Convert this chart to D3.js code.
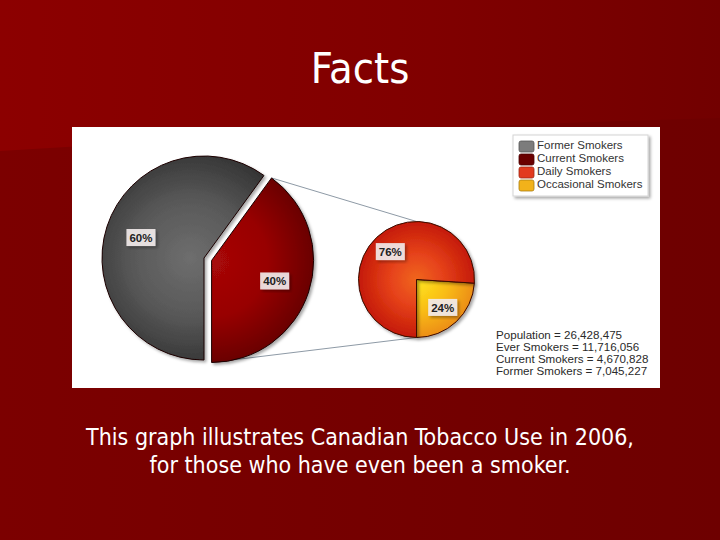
<!DOCTYPE html>
<html>
<head>
<meta charset="utf-8">
<script src="https://cdn.jsdelivr.net/npm/d3@7"></script>
<style>
  body { margin: 0; background: #760000; }
</style>
</head>
<body>
<script>
// Data
const mainLabels = ["Current Smokers", "Former Smokers"];
const mainValues = [40, 60];
const subLabels = ["Occasional Smokers", "Daily Smokers"];
const subValues = [24, 76];
const legendLabels = ["Former Smokers", "Current Smokers", "Daily Smokers", "Occasional Smokers"];
const statLines = [
    "Population = 26,428,475",
    "Ever Smokers = 11,716,056",
    "Current Smokers = 4,670,828",
    "Former Smokers = 7,045,227"
];
const captionLines = [
    "This graph illustrates Canadian Tobacco Use in 2006,",
    "for those who have even been a smoker."
];

let width = 720,
    height = 540;

let svg = d3.select('body')
    .append('svg')
    .attr('width', width)
    .attr('height', height);

const defs = svg.append('defs');

// helper for gradients
function linGrad(id, stops) {
    let g = defs.append('linearGradient').attr('id', id)
        .attr('x1', '0%').attr('x2', '100%').attr('y1', '0%').attr('y2', '0%');
    stops.forEach(s => g.append('stop').attr('offset', s[0]).attr('stop-color', s[1]));
}
// radial gradients live in the local space of each pie group (centre = 0,0)
function radGrad(id, cx, cy, r, stops) {
    let g = defs.append('radialGradient').attr('id', id)
        .attr('gradientUnits', 'userSpaceOnUse')
        .attr('cx', cx).attr('cy', cy).attr('r', r);
    stops.forEach(s => g.append('stop').attr('offset', s[0]).attr('stop-color', s[1]));
}

let shadow = defs.append('filter').attr('id', 'shadow')
    .attr('x', '-20%').attr('y', '-20%').attr('width', '140%').attr('height', '140%');
shadow.append('feDropShadow')
    .attr('dx', 2).attr('dy', 2).attr('stdDeviation', 1.6)
    .attr('flood-color', '#000').attr('flood-opacity', 0.35);

// slide background
linGrad('bgLow', [[0, '#7c0000'], [1, '#6e0000']]);
linGrad('bgTop', [[0, '#8c0000'], [0.6, '#800000'], [1, '#720000']]);

svg.append('rect')
    .attr('width', width).attr('height', height)
    .attr('fill', 'url(#bgLow)');

svg.append('path')
    .attr('d', 'M0,0 L720,0 L720,118 Q360,128 0,151 Z')
    .attr('fill', 'url(#bgTop)');

// title
svg.append('text')
    .attr('x', 360)
    .attr('y', 83)
    .attr('text-anchor', 'middle')
    .style('font-family', '"DejaVu Sans Condensed", "DejaVu Sans", sans-serif')
    .style('font-size', '43px')
    .attr('fill', '#fff')
    .text('Facts');

// white chart panel
let panel = { x: 72, y: 127, w: 588, h: 261 };
svg.append('rect')
    .attr('x', panel.x).attr('y', panel.y)
    .attr('width', panel.w).attr('height', panel.h)
    .attr('fill', '#fff');

// pie geometry
let main = { cx: 204, cy: 258, r: 102 };
let sub = { cx: 416.5, cy: 279.5, r: 58 };

// current slice is exploded towards the secondary pie
const mainStart = Math.PI - 2 * Math.PI * mainValues[0] / d3.sum(mainValues);
const subStart = Math.PI - 2 * Math.PI * subValues[0] / d3.sum(subValues);

const mainPie = d3.pie().sort(null)
    .startAngle(mainStart).endAngle(mainStart + 2 * Math.PI);
const subPie = d3.pie().sort(null)
    .startAngle(subStart).endAngle(subStart + 2 * Math.PI);

const mainArcs = mainPie(mainValues);
const subArcs = subPie(subValues);

const mainArc = d3.arc().innerRadius(0).outerRadius(main.r);
const subArc = d3.arc().innerRadius(0).outerRadius(sub.r);
const mainLabelArc = d3.arc().innerRadius(main.r * 0.65).outerRadius(main.r * 0.65);
const subLabelArc = d3.arc().innerRadius(sub.r * 0.66).outerRadius(sub.r * 0.66);

let explode = 8;
let cur = mainArcs[0];
let mid = (cur.startAngle + cur.endAngle) / 2;
let off = [explode * Math.sin(mid), -explode * Math.cos(mid)];

radGrad('gFormer', -14, 0, main.r * 1.05, [[0, '#6e6e6e'], [0.55, '#585858'], [1, '#363636']]);
radGrad('gCurrent', 0, 0, main.r, [[0, '#a80808'], [0.55, '#980202'], [1, '#6a0000']]);
radGrad('gDaily', 0, 0, sub.r, [[0, '#f0661a'], [0.45, '#e6421a'], [1, '#c41a06']]);
radGrad('gOcc', 0, 0, sub.r, [[0, '#ffe620'], [0.55, '#f9bc14'], [1, '#ec8e12']]);

const fills = ['url(#gCurrent)', 'url(#gFormer)'];
const subFills = ['url(#gOcc)', 'url(#gDaily)'];

// connector lines from the exploded slice to the secondary pie
function pt(c, r, a, o) {
    return [c.cx + o[0] + r * Math.sin(a), c.cy + o[1] - r * Math.cos(a)];
}
let p1 = pt(main, main.r, cur.startAngle, off),
    p2 = pt(main, main.r, cur.endAngle, off),
    q1 = pt(sub, sub.r, 0, [0, 0]),
    q2 = pt(sub, sub.r, Math.PI, [0, 0]);

svg.append('line')
    .attr('x1', p1[0]).attr('y1', p1[1]).attr('x2', q1[0]).attr('y2', q1[1])
    .attr('stroke', '#8e9aa6').attr('stroke-width', 1);
svg.append('line')
    .attr('x1', p2[0]).attr('y1', p2[1]).attr('x2', q2[0]).attr('y2', q2[1])
    .attr('stroke', '#8e9aa6').attr('stroke-width', 1);

// main pie
let mainG = svg.append('g')
    .attr('transform', `translate(${main.cx},${main.cy})`);

mainG.selectAll('path')
    .data(mainArcs)
    .enter().append('path')
    .attr('d', mainArc)
    .attr('transform', (d, i) => i === 0 ? `translate(${off[0]},${off[1]})` : null)
    .attr('fill', (d, i) => fills[i])
    .attr('stroke', '#1a0000')
    .attr('stroke-width', 1)
    .attr('filter', 'url(#shadow)');

// secondary pie
let subG = svg.append('g')
    .attr('transform', `translate(${sub.cx},${sub.cy})`);

subG.selectAll('path')
    .data(subArcs)
    .enter().append('path')
    .attr('d', subArc)
    .attr('fill', (d, i) => subFills[i])
    .attr('stroke', '#3a0800')
    .attr('stroke-width', 1)
    .attr('filter', 'url(#shadow)');

// percentage labels with little boxes
function addLabel(g, pos, txt) {
    let lg = g.append('g').attr('transform', `translate(${pos[0]},${pos[1]})`);
    let bg = lg.append('rect')
        .attr('fill', '#f3ecec')
        .attr('fill-opacity', 0.9)
        .attr('filter', 'url(#shadow)');
    let t = lg.append('text')
        .attr('text-anchor', 'middle')
        .attr('dy', '0.36em')
        .style('font-family', '"Liberation Sans", Arial, sans-serif')
        .style('font-size', '11.5px')
        .style('font-weight', 'bold')
        .attr('fill', '#222')
        .text(txt);
    let bb = t.node().getBBox();
    bg.attr('x', bb.x - 3).attr('y', -8.5)
        .attr('width', bb.width + 6).attr('height', 17);
}

mainArcs.forEach((d, i) => {
    let c = mainLabelArc.centroid(d);
    if (i === 0) c = [c[0] + off[0], c[1] + off[1]];
    addLabel(mainG, c, Math.round(d.value / d3.sum(mainValues) * 100) + '%');
});
subArcs.forEach(d => {
    addLabel(subG, subLabelArc.centroid(d), Math.round(d.value / d3.sum(subValues) * 100) + '%');
});

// legend
const legendColor = d3.scaleOrdinal()
    .domain(legendLabels)
    .range(['#7c7c7c', '#6a0000', '#e23a1e', '#f2b21a']);

let legend = svg.append('g')
    .attr('transform', 'translate(513,135)');

legend.append('rect')
    .attr('width', 135).attr('height', 61)
    .attr('fill', '#fff')
    .attr('stroke', '#d4d4d4')
    .attr('filter', 'url(#shadow)');

legendLabels.forEach((lab, i) => {
    legend.append('rect')
        .attr('x', 6)
        .attr('y', 6 + i * 13)
        .attr('width', 15)
        .attr('height', 11)
        .attr('rx', 2)
        .attr('fill', legendColor(lab))
        .attr('stroke', d3.color(legendColor(lab)).darker(1))
        .attr('stroke-width', 0.8);

    legend.append('text')
        .attr('x', 24)
        .attr('y', 13.5 + i * 13)
        .style('font-family', '"Liberation Sans", Arial, sans-serif')
        .style('font-size', '11.5px')
        .attr('fill', '#333')
        .text(lab);
});

// figures at the bottom right
let stats = svg.append('g')
    .attr('transform', 'translate(496,339)');

stats.selectAll('text')
    .data(statLines)
    .enter().append('text')
    .attr('x', 0)
    .attr('y', (d, i) => i * 12)
    .style('font-family', '"Liberation Sans", Arial, sans-serif')
    .style('font-size', '11.6px')
    .attr('fill', '#2a2a2a')
    .text(d => d);

// caption
svg.selectAll('.caption')
    .data(captionLines)
    .enter().append('text')
    .attr('class', 'caption')
    .attr('x', 360)
    .attr('y', (d, i) => 445 + i * 28)
    .attr('text-anchor', 'middle')
    .style('font-family', '"DejaVu Sans Condensed", "DejaVu Sans", sans-serif')
    .style('font-size', '23px')
    .attr('fill', '#fff')
    .text(d => d);
</script>
</body>
</html>
